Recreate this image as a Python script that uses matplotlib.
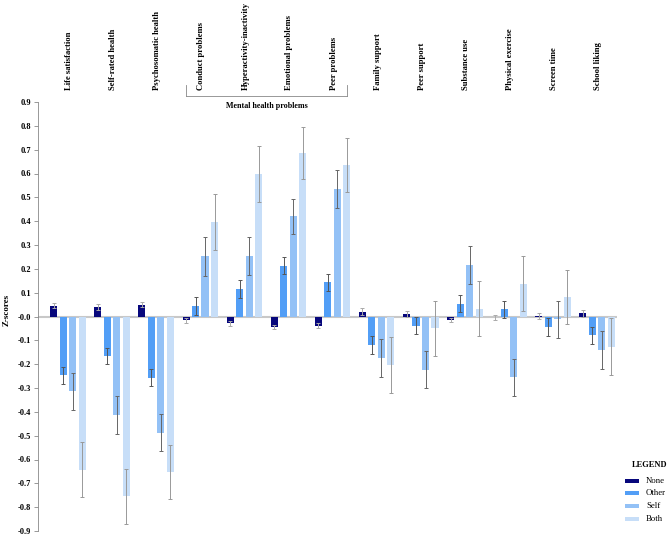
import matplotlib
matplotlib.use("Agg")
import matplotlib.pyplot as plt
import numpy as np
from matplotlib.patches import Rectangle

categories = ["Life satisfaction", "Self-rated health", "Psychosomatic health",
              "Conduct problems", "Hyperactivity-inactivity", "Emotional problems",
              "Peer problems", "Family support", "Peer support", "Substance use",
              "Physical exercise", "Screen time", "School liking"]
series = ["None", "Other", "Self", "Both"]

none_vals = [0.046, 0.039, 0.050, -0.016, -0.028, -0.044, -0.039, 0.020, 0.010, -0.014, -0.004, 0.002, 0.013]
other_vals = [-0.247, -0.166, -0.257, 0.045, 0.116, 0.213, 0.143, -0.119, -0.038, 0.053, 0.031, -0.044, -0.079]
self_vals = [-0.314, -0.414, -0.488, 0.252, 0.254, 0.420, 0.535, -0.174, -0.223, 0.216, -0.255, -0.011, -0.141]
both_vals = [-0.643, -0.755, -0.651, 0.395, 0.598, 0.685, 0.636, -0.203, -0.050, 0.032, 0.137, 0.082, -0.126]

none_err = [0.011, 0.012, 0.012, 0.010, 0.010, 0.010, 0.010, 0.014, 0.013, 0.008, 0.010, 0.012, 0.013]
other_err = [0.036, 0.035, 0.036, 0.037, 0.038, 0.036, 0.036, 0.038, 0.036, 0.036, 0.036, 0.037, 0.036]
self_err = [0.078, 0.079, 0.078, 0.080, 0.080, 0.074, 0.078, 0.080, 0.078, 0.080, 0.077, 0.078, 0.080]
both_err = [0.115, 0.117, 0.113, 0.117, 0.117, 0.110, 0.114, 0.117, 0.115, 0.115, 0.115, 0.115, 0.118]

yticks = [round(v, 1) for v in np.arange(-0.9, 0.91, 0.1)]

colors = ["#07077c", "#529ef6", "#93c1f6", "#c7def8"]
err_colors = ["#aaaaaa", "#555555", "#666666", "#999999"]

serif = ["Liberation Serif", "DejaVu Serif"]
plt.rcParams["font.family"] = serif

W, H = 669, 537
fig = plt.figure(figsize=(W / 100, H / 100), dpi=100)
ax = fig.add_axes([38 / W, 1 - 531 / H, (617 - 38) / W, (531 - 102) / H])

x = np.arange(len(categories))
step = 0.215
width = 0.16
vals = [none_vals, other_vals, self_vals, both_vals]
errs = [none_err, other_err, self_err, both_err]
for i in range(4):
    pos = x + (i - 1.5) * step
    ax.bar(pos, vals[i], width=width, color=colors[i], zorder=2, label=series[i])
    ax.errorbar(pos, vals[i], yerr=errs[i], fmt="none", ecolor=err_colors[i],
                elinewidth=0.7, capsize=1.5, capthick=0.7, zorder=3)

ax.axhline(0, color="#c8c8c8", linewidth=1.5, zorder=1)
ax.set_xlim(-0.68, 12.45)
ax.set_ylim(-0.9, 0.9)
ax.set_yticks(yticks)
ax.set_yticklabels([f"{v:.1f}" for v in yticks], fontsize=6, fontweight="bold")
ax.tick_params(axis="y", length=3, width=0.6, color="#888888", pad=2)
ax.set_xticks([])
for s in ["top", "right", "bottom"]:
    ax.spines[s].set_visible(False)
ax.spines["left"].set_color("#888888")
ax.spines["left"].set_linewidth(0.6)
fig.text(7 / W, 1 - 310 / H, "Z-scores", rotation=90, ha="center", va="center",
         fontsize=6.5, fontweight="bold")

# top category labels
for i, c in enumerate(categories):
    xf = (ax.transData.transform((i, 0))[0] + 1) / W
    fig.text(xf, 1 - 90 / H, c, rotation=90, ha="center", va="bottom",
             fontsize=6.2, fontweight="bold")

# bracket for mental health problems
x0 = 186 / W
x1 = 347 / W
yb = 1 - 96 / H
yt = 1 - 85 / H
fig.add_artist(plt.Line2D([x0, x1], [yb, yb], color="#888888", lw=0.6))
fig.add_artist(plt.Line2D([x0, x0], [yb, yt], color="#888888", lw=0.6))
fig.add_artist(plt.Line2D([x1, x1], [yb, yt], color="#888888", lw=0.6))
fig.text((x0 + x1) / 2, 1 - 106 / H, "Mental health problems", ha="center", va="center",
         fontsize=5.8, fontweight="bold")

# legend (manual)
fig.text(650 / W, 1 - 465 / H, "LEGEND", ha="center", va="center",
         fontsize=6, fontweight="bold")
row_y = [481, 493, 506, 519]
for i in range(4):
    fig.add_artist(Rectangle((625 / W, 1 - (row_y[i] + 2) / H), 14 / W, 4 / H,
                             transform=fig.transFigure, facecolor=colors[i],
                             edgecolor="none"))
    fig.text(646 / W, 1 - row_y[i] / H, series[i], ha="left", va="center", fontsize=6.3)

fig.savefig("out.png", dpi=100)
